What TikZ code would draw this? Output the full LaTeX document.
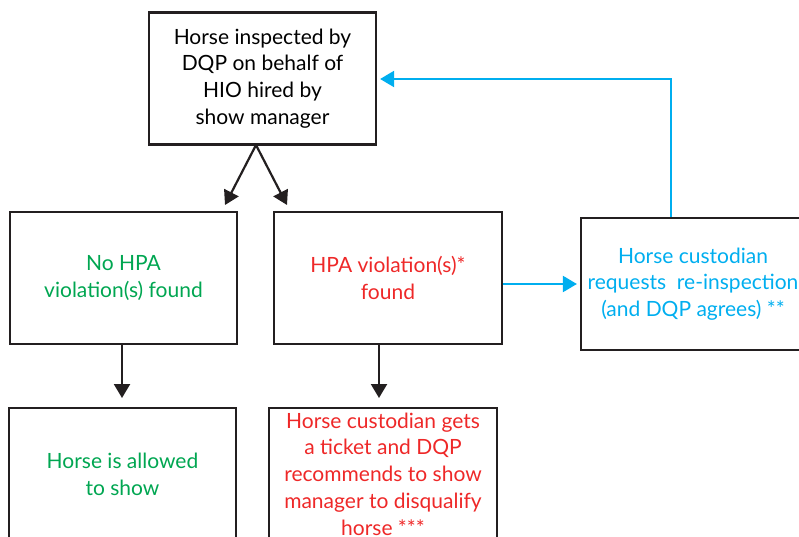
\documentclass[tikz,border=0pt]{standalone}
\usepackage{fontspec}
\setmainfont{Lato}
\usetikzlibrary{arrows.meta}
\definecolor{tgreen}{RGB}{0,166,81}
\definecolor{tred}{RGB}{238,40,40}
\definecolor{tblue}{RGB}{0,174,239}
\definecolor{tline}{RGB}{35,31,32}
\tikzset{
  box/.style={draw=tline, line width=2.2pt, minimum width=227pt, minimum height=132pt, align=center, inner sep=0pt,
    font=\fontsize{21}{26.7}\selectfont},
  arr/.style={draw=tline, line width=2.2pt, -{Triangle[length=14pt,width=16pt]}},
  barr/.style={draw=tblue, line width=2.2pt, -{Triangle[length=14pt,width=16pt]}},
  bline/.style={draw=tblue, line width=2.2pt}
}
\begin{document}
\begin{tikzpicture}[x=1pt,y=-1pt]
\useasboundingbox (0,0) rectangle (799,537);
\clip (0,0) rectangle (799,537);
\node[box] (top) at (262.5,78.5) {Horse inspected by\\DQP on behalf of\\HIO hired by\\show manager};
\node[box, text=tgreen] (nohpa) at (123.5,278) {No HPA\\violation(s) found};
\node[box, text=tred, minimum width=228pt] (hpa) at (388,278) {HPA violation(s)*\\found};
\node[box, text=tblue, minimum width=224pt] (req) at (693,284) {Horse custodian\\requests\ \ re-inspection\\(and DQP agrees) **};
\node[box, text=tgreen] (allowed) at (122.5,474) {Horse is allowed\\to show};
\node[box, text=tred, minimum width=228pt] (ticket) at (383,474) {Horse custodian gets\\a ticket and DQP\\recommends to show\\manager to disqualify\\horse ***};
\coordinate (split) at (256,145);
\coordinate (d1) at (225,205);
\coordinate (d2) at (287,205);
\coordinate (a1s) at (122,344);
\coordinate (a1e) at (122,398);
\coordinate (a2s) at (379,344);
\coordinate (a2e) at (379,398);
\coordinate (bend) at (671,79);
\draw[arr] (split) -- (d1);
\draw[arr] (split) -- (d2);
\draw[arr] (a1s) -- (a1e);
\draw[arr] (a2s) -- (a2e);
\draw[barr, shorten >=3pt] (hpa.east |- req.west) -- (req.west);
\draw[barr, shorten >=3pt] (req.north -| bend) -- (bend) -- (top.east |- bend);
\end{tikzpicture}
\end{document}
